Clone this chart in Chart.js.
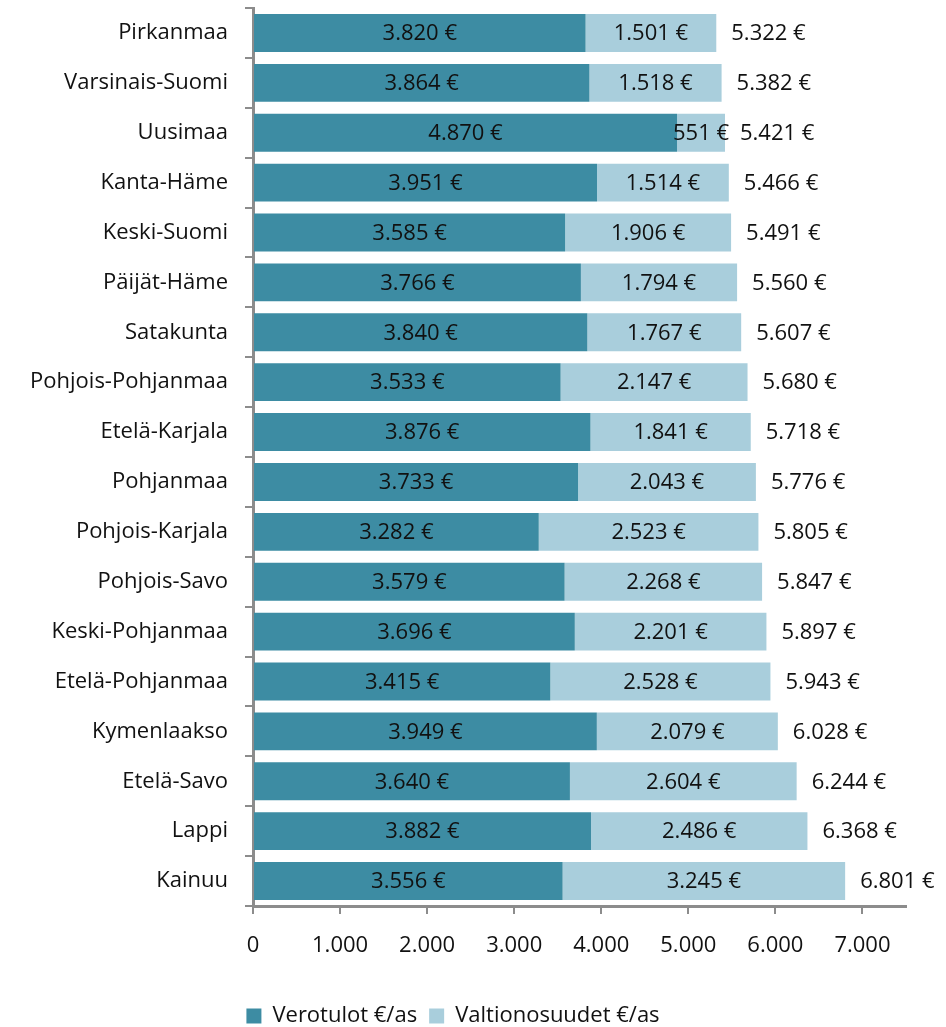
<!DOCTYPE html>
<html>
<head>
<meta charset="utf-8">
<script src="https://cdn.jsdelivr.net/npm/chart.js@4"></script>
<style>
  html, body { margin: 0; padding: 0; background: #fff; }
  #wrap { width: 946px; height: 1027px; position: relative; }
</style>
</head>
<body>
<div id="wrap"><canvas id="chart"></canvas></div>
<script>
'use strict';

// ── Data ─────────────────────────────────────────────────────────
const regions = [
  'Pirkanmaa', 'Varsinais-Suomi', 'Uusimaa', 'Kanta-Häme', 'Keski-Suomi',
  'Päijät-Häme', 'Satakunta', 'Pohjois-Pohjanmaa', 'Etelä-Karjala', 'Pohjanmaa',
  'Pohjois-Karjala', 'Pohjois-Savo', 'Keski-Pohjanmaa', 'Etelä-Pohjanmaa',
  'Kymenlaakso', 'Etelä-Savo', 'Lappi', 'Kainuu',
];
const verotulot = [
  3820, 3864, 4870, 3951, 3585, 3766, 3840, 3533, 3876, 3733,
  3282, 3579, 3696, 3415, 3949, 3640, 3882, 3556,
];
const valtionosuudet = [
  1501, 1518, 551, 1514, 1906, 1794, 1767, 2147, 1841, 2043,
  2523, 2268, 2201, 2528, 2079, 2604, 2486, 3245,
];
const totals = [
  5322, 5382, 5421, 5466, 5491, 5560, 5607, 5680, 5718, 5776,
  5805, 5847, 5897, 5943, 6028, 6244, 6368, 6801,
];
const xTicks = [0, 1000, 2000, 3000, 4000, 5000, 6000, 7000];

// ── Helpers ──────────────────────────────────────────────────────
const FONT = '"Open Sans", "Noto Sans", sans-serif';
const FSIZE = 22;
const DARK = '#3d8ca3';
const LIGHT = '#a9cedc';
const AXIS = '#8c8c8c';

function fmtNum(v) {
  return String(v).replace(/\B(?=(\d{3})+(?!\d))/g, '.');
}

// ── Labels plugin ────────────────────────────────────────────────
const valueLabels = {
  id: 'valueLabels',
  afterDatasetsDraw(chart) {
    const ctx = chart.ctx;
    ctx.save();
    ctx.font = `${FSIZE}px ${FONT}`;
    ctx.fillStyle = '#111';
    ctx.textBaseline = 'middle';
    chart.data.datasets.forEach((ds, di) => {
      const meta = chart.getDatasetMeta(di);
      meta.data.forEach((bar, i) => {
        const left = bar.base, right = bar.x;
        ctx.textAlign = 'center';
        ctx.fillText(`${fmtNum(ds.data[i])} €`, (left + right) / 2, bar.y + 1);
        if (di === chart.data.datasets.length - 1) {
          ctx.textAlign = 'left';
          ctx.fillText(`${fmtNum(totals[i])} €`, right + 15, bar.y + 1);
        }
      });
    });
    ctx.restore();
  },
};

// ── Chart ────────────────────────────────────────────────────────
const ctx = document.getElementById('chart').getContext('2d');
new Chart(ctx, {
  type: 'bar',
  data: {
    labels: regions,
    datasets: [
      { label: 'Verotulot €/as', data: verotulot, backgroundColor: DARK },
      { label: 'Valtionosuudet €/as', data: valtionosuudet, backgroundColor: LIGHT },
    ],
  },
  options: {
    indexAxis: 'y',
    responsive: true,
    maintainAspectRatio: false,
    animation: false,
    datasets: { bar: { barPercentage: 0.76, categoryPercentage: 1 } },
    layout: { padding: { top: 8, right: 40, left: 0, bottom: -10 } },
    plugins: {
      legend: {
        position: 'bottom',
        labels: {
          color: '#111',
          font: { family: FONT, size: FSIZE },
          boxWidth: 15,
          boxHeight: 15,
          padding: 12,
        },
      },
      tooltip: { enabled: false },
    },
    scales: {
      x: {
        stacked: true,
        min: 0,
        max: 7500,
        afterBuildTicks: (axis) => { axis.ticks = xTicks.map((v) => ({ value: v })); },
        afterFit: (axis) => { axis.height = 87; },
        ticks: {
          color: '#111',
          font: { family: FONT, size: FSIZE },
          padding: 19,
          callback: (v) => fmtNum(v),
        },
        grid: { drawOnChartArea: false, color: AXIS, tickLength: 8, lineWidth: 2 },
        border: { color: AXIS, width: 3 },
      },
      y: {
        stacked: true,
        afterFit: (axis) => {
          axis.width = 253;
          axis.paddingTop = 0;
          axis.paddingBottom = 0;
        },
        ticks: {
          color: '#111',
          font: { family: FONT, size: FSIZE },
          padding: 17,
        },
        grid: { drawOnChartArea: false, offset: true, color: AXIS, tickLength: 8, lineWidth: 2 },
        border: { color: AXIS, width: 3 },
      },
    },
  },
  plugins: [valueLabels],
});
</script>
</body>
</html>
